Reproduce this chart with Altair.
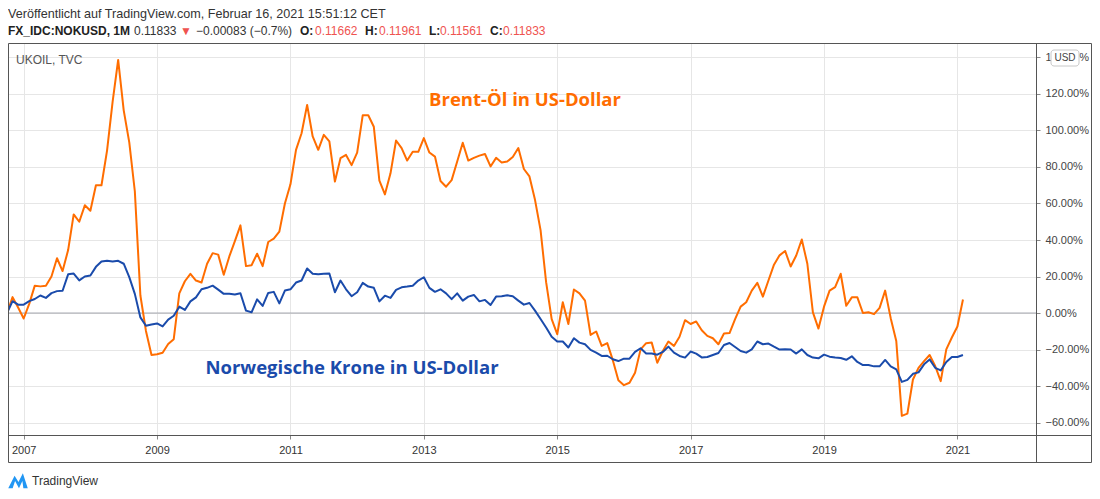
import altair as alt
import pandas as pd

# ---- data (percent change since Oct 2006, monthly) ----
start_month = "2006-10"
brent_pct = [
    0, 8.7, 3, -3, 5, 15, 14.6, 15, 20, 30, 23, 34.5, 54, 50, 59, 56, 70, 70, 89, 115.6,
    138.6, 111, 93.5, 66.7, 9.6, -9.8, -23, -22.6, -21.8, -17, -14.3, 10.8, 17.4, 21.5, 17.8, 16.7, 27, 32.8, 32, 21,
    31, 39.4, 48, 25.7, 26.2, 32.5, 25.7, 38.9, 40.7, 44.6, 60, 70.5, 89.4, 98.5, 114, 96.7, 89.4, 97.6, 94, 72,
    84.8, 86.6, 81, 87.9, 108.3, 108.3, 102, 72.5, 65, 76.5, 94.5, 90.3, 83.5, 88.3, 88.3, 95.8, 87.9, 85.7, 72.3, 69.2,
    72.8, 83, 93.3, 83.5, 85, 86.2, 87.1, 80.3, 85, 82.5, 83, 85.5, 90.4, 78.9, 74.8, 62, 45.4, 16.9, -3.3, -11.6,
    5.9, -6, 12.9, 10.8, 6.8, -12, -10.1, -18, -16.5, -25.8, -36.8, -39.5, -38.2, -32.7, -19.9, -16.5, -16.2, -27.2, -20.8, -15.6,
    -18, -13, -3.9, -6, -4.6, -9.4, -12.5, -13.8, -17.1, -11.2, -11, -3.3, 3.5, 5.9, 12.3, 16.5, 9, 17.8, 26.5, 31.6,
    34, 25.5, 31.5, 40.3, 27, 0.4, -8.5, 3.5, 12.3, 14.2, 21.5, 4, 8.6, 8.6, 0, 0.4, -0.6, 2.8, 12.3, -2.8,
    -15.3, -56.3, -55.1, -36.4, -30, -26.3, -23, -29, -37.3, -19.9, -13.4, -7.4, 7.4,
]
nok_pct = [
    0, 6.5, 4.6, 4.6, 6.5, 7.7, 9.6, 8.3, 10.9, 12, 12.2, 21.2, 21.6, 17.9, 20, 20.6, 25.3, 28.2, 28.6, 28.2,
    28.6, 27, 19.7, 10.5, -2.4, -7, -6.3, -5.7, -7.3, -3.6, -1.5, 3.5, 1.7, 6.4, 8.6, 13, 13.8, 15, 12.8, 10.5,
    10.5, 10.1, 10.8, 1.3, 0.4, 7.5, 3.9, 11, 11.6, 5.3, 12.3, 13, 16.7, 17.8, 24.4, 21.5, 21.3, 21.5, 21.7, 11.4,
    17.8, 13, 9.2, 11.4, 16.5, 14.5, 13.8, 6.4, 9.5, 8.3, 12.7, 14.1, 14.5, 15, 17.8, 19.6, 13.8, 11.6, 13, 10.8,
    7.6, 10.8, 6.8, 9, 9.9, 6.4, 7.2, 4.4, 9, 9.2, 9.7, 9.2, 6.8, 4.6, 5.5, 1.3, -3.3, -7.9, -13, -15.6,
    -15.6, -18.9, -13.8, -16.2, -17.1, -20.2, -21.7, -23.5, -23.4, -25.3, -26.3, -25, -25, -21.3, -19.3, -22.2, -22.2, -22.8, -21.3, -18.4,
    -21.7, -23.5, -24.4, -21.1, -22.2, -24.3, -24.1, -23, -21.9, -17.5, -16.4, -18.6, -20.8, -21.7, -19.9, -15.6, -17.1, -16.7, -18.4, -20,
    -19.9, -20, -22.2, -19.9, -23, -24.4, -24.8, -22.8, -23.9, -24.4, -24.6, -25.6, -23.7, -26.8, -28.5, -28.5, -29.2, -29.2, -25.7, -29.2,
    -30.9, -37.7, -36.6, -33.3, -32.5, -28.1, -25.4, -30, -31.4, -26.8, -24.1, -24.1, -23,
]
year_ticks = [2007, 2009, 2011, 2013, 2015, 2017, 2019, 2021]
pct_ticks = [-60, -40, -20, 0, 20, 40, 60, 80, 100, 120, 140]

ORANGE = "#ff6d00"
BLUE = "#1a4bab"
RED = "#ef5350"
FONT = "Liberation Sans"
NARROW = "Liberation Sans Narrow, Liberation Sans"

W, H = 1028, 392

rows = []
for i, v in enumerate(brent_pct):
    rows.append({"m": i, "v": v, "s": "Brent"})
for i, v in enumerate(nok_pct):
    rows.append({"m": i, "v": v, "s": "NOK"})
df = pd.DataFrame(rows)

# month index of January of each tick year (index 0 = Oct 2006)
tick_m = [(y - 2007) * 12 + 3 for y in year_ticks]

xscale = alt.Scale(domain=[0.18, 185.14], nice=False, zero=False)
yscale = alt.Scale(domain=[-66.8, 147.9], nice=False, zero=False)

xaxis = alt.Axis(
    values=tick_m, tickCount=40, labelExpr="'' + round(2007 + (datum.value - 3) / 12)",
    grid=True, gridColor="#e6e6e6", domain=False, ticks=True, tickSize=4,
    tickColor="#888", labelFont=NARROW, labelFontSize=11, labelColor="#333",
    labelPadding=5, title=None, orient="bottom", labelOverlap=False,
)
yaxis = alt.Axis(
    values=pct_ticks, tickCount=40, format=".2f", labelExpr="datum.label + '%'",
    grid=True, gridColor="#e6e6e6", domain=False, ticks=True, tickSize=4,
    tickColor="#888", labelFont=NARROW, labelFontSize=11, labelColor="#444",
    labelPadding=5, title=None, orient="right", labelOverlap=False,
)

one = pd.DataFrame({"a": [0]})

zero_rule = alt.Chart(pd.DataFrame({"v": [0]})).mark_rule(color="#a3a6ad", strokeWidth=1).encode(
    y=alt.Y("v:Q", scale=yscale, axis=yaxis)
)

lines = alt.Chart(df).mark_line(strokeWidth=2, strokeJoin="round").encode(
    x=alt.X("m:Q", scale=xscale, axis=xaxis),
    y=alt.Y("v:Q", scale=yscale, axis=yaxis),
    color=alt.Color("s:N", scale=alt.Scale(domain=["Brent", "NOK"], range=[ORANGE, BLUE]), legend=None),
)

frame = alt.Chart(one).mark_rect(filled=False, stroke="#555", strokeWidth=1).encode(
    x=alt.value(0.5), x2=alt.value(1083.5), y=alt.value(0.5), y2=alt.value(419.5)
)
vsep = alt.Chart(one).mark_rule(color="#555", strokeWidth=1).encode(
    x=alt.value(W + 0.5), y=alt.value(0), y2=alt.value(419.5)
)
hsep = alt.Chart(one).mark_rule(color="#555", strokeWidth=1).encode(
    x=alt.value(0), x2=alt.value(1084), y=alt.value(H + 0.5)
)


def txt(t, x, y, size=12, color="#333", weight="normal", align="left", font=FONT):
    return alt.Chart(pd.DataFrame({"t": [t]})).mark_text(
        align=align, baseline="middle", fontSize=size, color=color, fontWeight=weight, font=font
    ).encode(x=alt.value(x), y=alt.value(y), text="t:N")


bold_parts = pd.DataFrame({
    "t": ["FX_IDC:NOKUSD, 1M", "O:", "H:", "L:", "C:"],
    "x": [0, 292, 357, 421, 482],
})
norm_parts = pd.DataFrame({
    "t": ["0.11833", "\u25BC", "\u22120.00083 (\u22120.7%)", "0.11662", "0.11961", "0.11561", "0.11833"],
    "x": [126, 172, 188, 307, 371, 432, 495],
    "c": ["#333", RED, "#333", RED, RED, RED, RED],
})
hdr_bold = alt.Chart(bold_parts).mark_text(
    align="left", baseline="middle", fontSize=12, fontWeight="bold", font=FONT, color="#222"
).encode(x=alt.X("x:Q", scale=None), y=alt.value(-12), text="t:N")
hdr_norm = alt.Chart(norm_parts).mark_text(
    align="left", baseline="middle", fontSize=12, font=FONT
).encode(x=alt.X("x:Q", scale=None), y=alt.value(-12), text="t:N", color=alt.Color("c:N", scale=None))

usd_box = alt.Chart(one).mark_rect(fill="white", stroke="#c8c8c8", strokeWidth=1, cornerRadius=3).encode(
    x=alt.value(1043), x2=alt.value(1071), y=alt.value(7), y2=alt.value(23)
)

logo = alt.Chart(one).mark_point(
    shape="M-1,0.75 L-0.35,-0.55 L0.05,0.1 L0.5,-0.8 L1,0.75 L0.55,0.75 L0.45,0.0 L0.1,0.75 L-0.3,0.0 L-0.55,0.75 Z",
    filled=True, color="#2196f3", opacity=1, size=380,
).encode(x=alt.value(10), y=alt.value(438))

chart = alt.layer(
    zero_rule,
    lines,
    frame,
    vsep,
    hsep,
    usd_box,
    txt("USD", 1057, 15, size=10, color="#444", align="center", font=NARROW),
    txt("Ver\u00f6ffentlicht auf TradingView.com, Februar 16, 2021 15:51:12 CET", 0, -29, size=12.6, color="#333"),
    hdr_bold,
    hdr_norm,
    txt("UKOIL, TVC", 8, 17, size=12, color="#555"),
    txt("Brent-\u00d6l in US-Dollar", 517, 57, size=18.5, color=ORANGE, weight="bold", align="center", font="Open Sans"),
    txt("Norwegische Krone in US-Dollar", 344, 325, size=18.5, color=BLUE, weight="bold", align="center", font="Open Sans"),
    logo,
    txt("TradingView", 24, 438, size=12, color="#333", font=NARROW),
).properties(
    width=W, height=H,
    autosize=alt.AutoSizeParams(type="none"),
    padding={"left": 0, "top": 35, "right": 56, "bottom": 56},
    background="white",
).configure_view(stroke=None)

chart.save("out.html", embed_options={"renderer": "svg", "actions": False})
